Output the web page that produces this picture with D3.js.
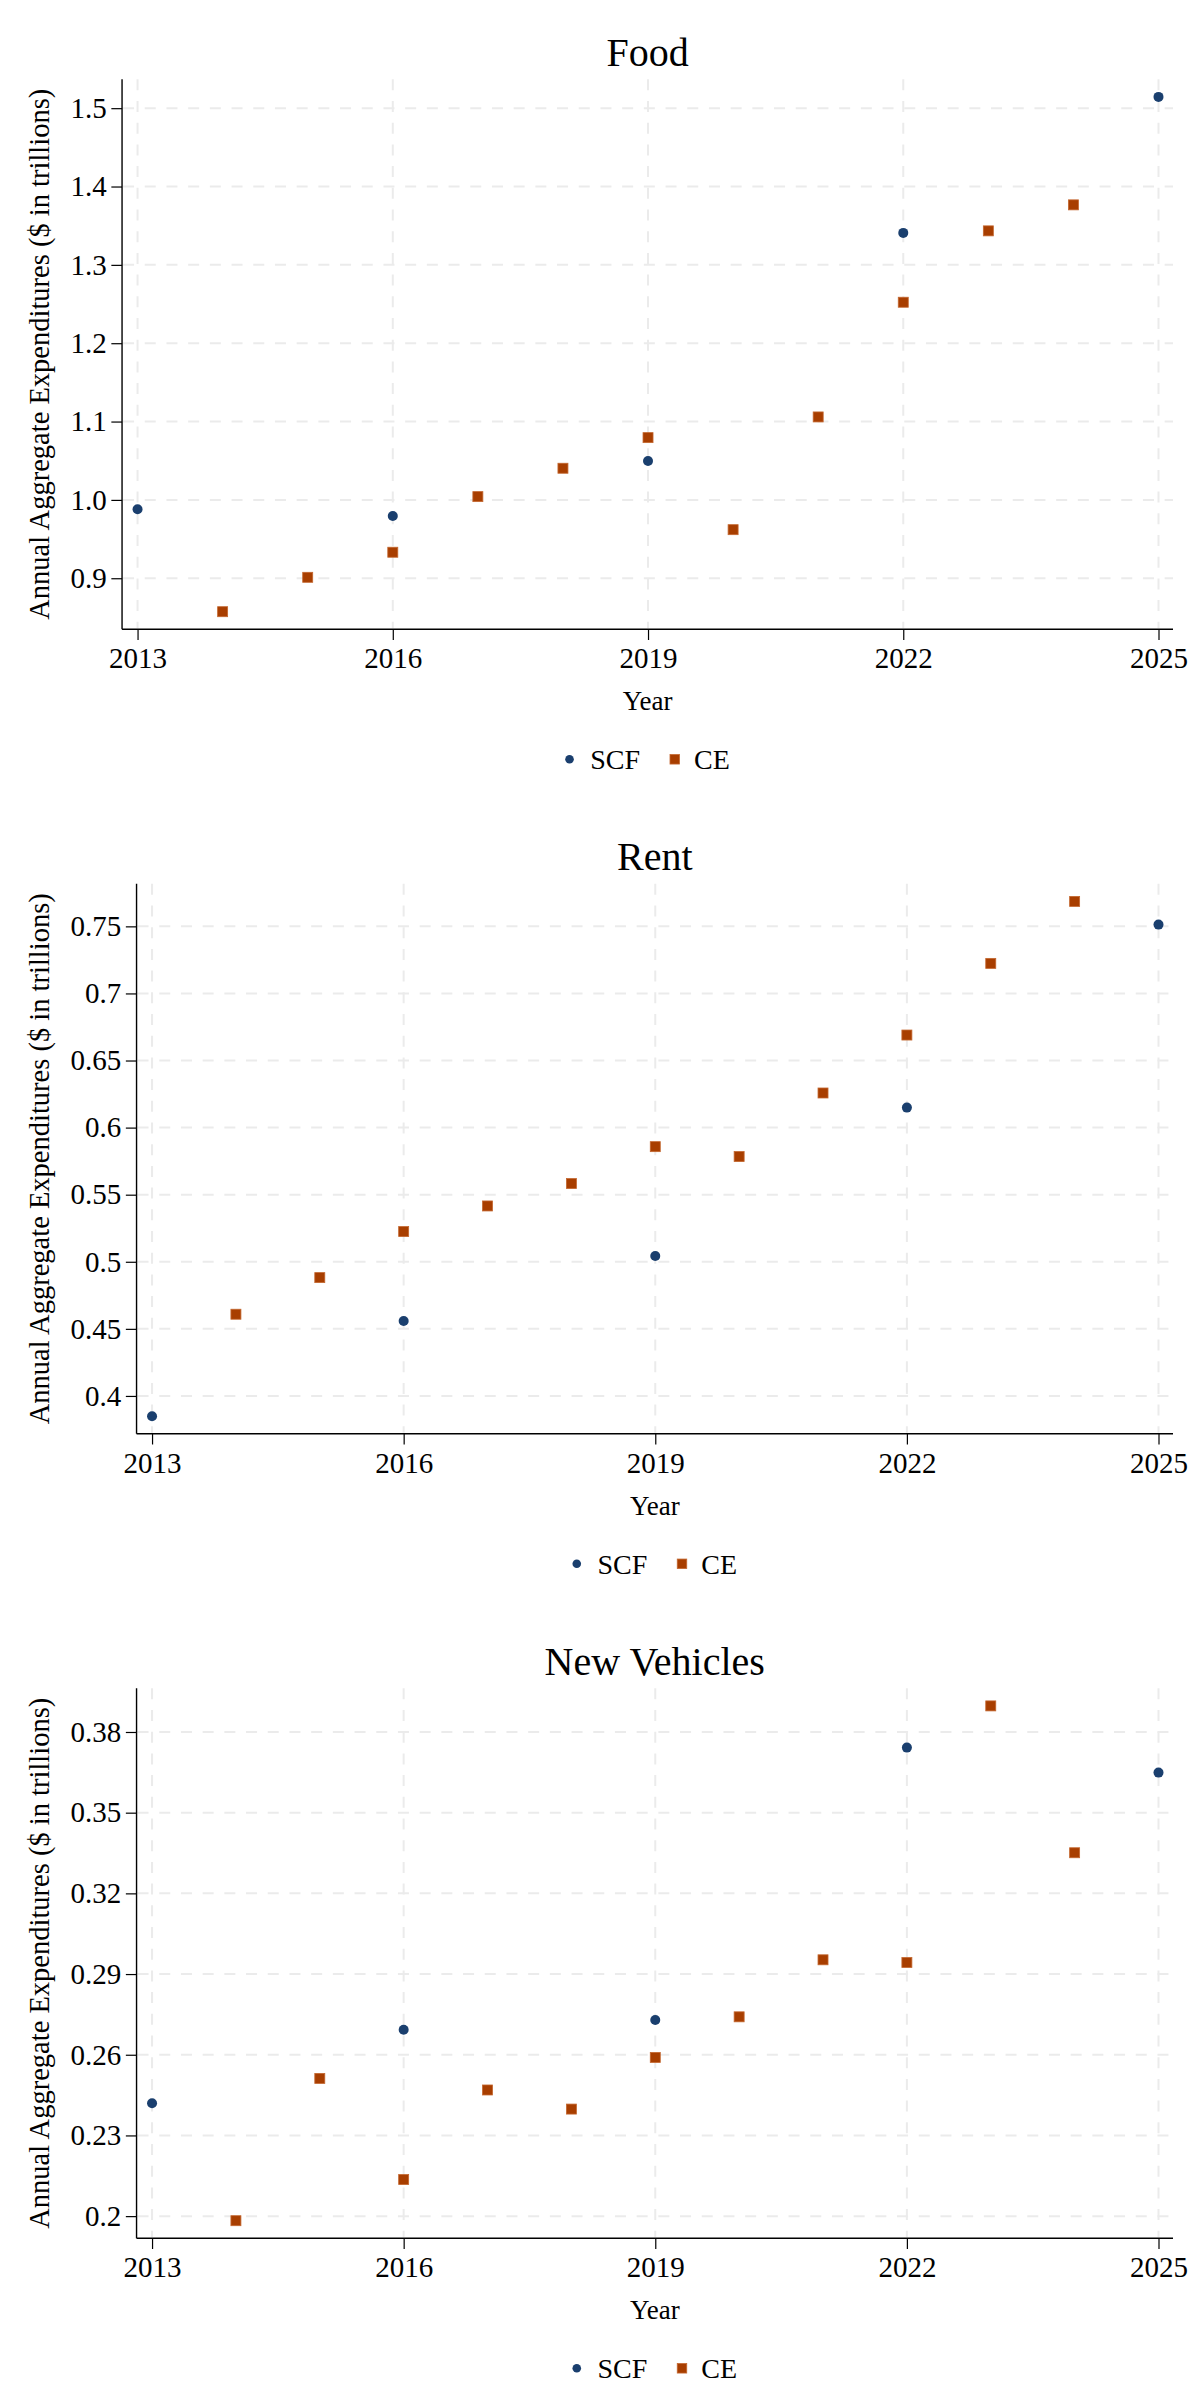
<!DOCTYPE html>
<html>
<head>
<meta charset="utf-8">
<script src="https://cdn.jsdelivr.net/npm/d3@7"></script>
<style>
  html, body { margin: 0; padding: 0; background: #ffffff; }
  svg { display: block; }
  text { font-family: 'Liberation Serif', 'Times New Roman', serif; fill: #000; }
</style>
</head>
<body>
<div id="chart"></div>
<script>
// ---------------- DATA ----------------
const scfYears = [2013, 2016, 2019, 2022, 2025];
const ceYears  = [2014, 2015, 2016, 2017, 2018, 2019, 2020, 2021, 2022, 2023, 2024];
const xTicks   = [2013, 2016, 2019, 2022, 2025];

const foodSCF = [0.988, 0.9795, 1.0497, 1.3408, 1.5144];
const foodCE  = [0.8573, 0.9012, 0.9332, 1.0042, 1.0404, 1.0795, 0.962, 1.1059, 1.2523, 1.3434, 1.3766];
const foodTicks = [0.9, 1.0, 1.1, 1.2, 1.3, 1.4, 1.5];
const foodTickLabels = ["0.9", "1.0", "1.1", "1.2", "1.3", "1.4", "1.5"];

const rentSCF = [0.3849, 0.4559, 0.5043, 0.6149, 0.7513];
const rentCE  = [0.4609, 0.4882, 0.5225, 0.5416, 0.5583, 0.5858, 0.5784, 0.6258, 0.669, 0.7224, 0.7686];
const rentTicks = [0.4, 0.45, 0.5, 0.55, 0.6, 0.65, 0.7, 0.75];
const rentTickLabels = ["0.4", "0.45", "0.5", "0.55", "0.6", "0.65", "0.7", "0.75"];

const nvSCF = [0.242, 0.2693, 0.2729, 0.3742, 0.3649];
const nvCE  = [0.1983, 0.2512, 0.2136, 0.2469, 0.2398, 0.259, 0.2741, 0.2953, 0.2943, 0.3897, 0.3351];
const nvTicks = [0.2, 0.23, 0.26, 0.29, 0.32, 0.35, 0.38];
const nvTickLabels = ["0.2", "0.23", "0.26", "0.29", "0.32", "0.35", "0.38"];

const titles = ["Food", "Rent", "New Vehicles"];
const seriesNames = ["SCF", "CE"];
const xTitle = "Year";
const yTitle = "Annual Aggregate Expenditures ($ in trillions)";

// ---------------- STYLE / LAYOUT ----------------
const W = 1200, H = 2400;
const FONT = "'Liberation Serif', 'Times New Roman', serif";
const colSCF = "#1a3f6e";
const colCE = "#a83e00";
const colCEStroke = "#c4672f";
const gridCol = "#ebebeb";
const top0 = 79.3, step = 804.5, plotH = 550, plotRight = 1173;
const padY = 17.6, padXL = 15.5, padXR = 14.5;
const tickLen = 10.7, tickGap = 4.6;
const fontTick = 29, fontYTitle = 28.5, fontXTitle = 27, fontLegend = 28, fontTitle = 40;

const panels = [
  { title: titles[0], scf: foodSCF, ce: foodCE, ticks: foodTicks, labels: foodTickLabels },
  { title: titles[1], scf: rentSCF, ce: rentCE, ticks: rentTicks, labels: rentTickLabels },
  { title: titles[2], scf: nvSCF, ce: nvCE, ticks: nvTicks, labels: nvTickLabels }
];

const svg = d3.select("#chart").append("svg")
  .attr("width", W).attr("height", H)
  .attr("viewBox", `0 0 ${W} ${H}`)
  .attr("font-family", FONT);
svg.append("rect").attr("width", W).attr("height", H).attr("fill", "#fff");

// helper to measure text width
const measurer = svg.append("text").attr("font-size", fontTick).attr("visibility", "hidden");
function textW(s, size) {
  measurer.attr("font-size", size).text(s);
  return measurer.node().getComputedTextLength();
}

panels.forEach((p, i) => {
  const top = top0 + i * step;
  const bottom = top + plotH;
  const maxLab = d3.max(p.labels, l => textW(l, fontTick));
  const left = 70 + maxLab + tickLen + tickGap + 0.5;
  const cx = (left + plotRight) / 2;

  const allVals = p.scf.concat(p.ce);
  const x = d3.scaleLinear().domain([2013, 2025]).range([left + padXL, plotRight - padXR]);
  const y = d3.scaleLinear().domain(d3.extent(allVals)).range([bottom - padY, top + padY]);

  const g = svg.append("g");

  // gridlines
  g.append("g").selectAll("line").data(p.ticks).join("line")
    .attr("x1", left + 1).attr("x2", plotRight)
    .attr("y1", d => y(d)).attr("y2", d => y(d))
    .attr("stroke", gridCol).attr("stroke-width", 2)
    .attr("stroke-dasharray", "11 10.7");
  g.append("g").selectAll("line").data(xTicks).join("line")
    .attr("x1", d => x(d)).attr("x2", d => x(d))
    .attr("y1", top).attr("y2", bottom - 1)
    .attr("stroke", gridCol).attr("stroke-width", 2)
    .attr("stroke-dasharray", "11 10.7");

  // y axis
  const yAxis = d3.axisLeft(y).tickValues(p.ticks)
    .tickFormat((d, k) => p.labels[k]).tickSize(tickLen).tickPadding(tickGap);
  const ya = g.append("g").attr("transform", `translate(${left},0)`).call(yAxis)
    .attr("font-family", FONT).attr("font-size", fontTick);
  ya.select(".domain").attr("d", `M0,${top}V${bottom}`).attr("stroke", "#000").attr("stroke-width", 1.4);
  ya.selectAll(".tick line").attr("stroke", "#000").attr("stroke-width", 1.2);
  ya.selectAll(".tick text").attr("fill", "#000");

  // x axis
  const xAxis = d3.axisBottom(x).tickValues(xTicks).tickFormat(d3.format("d"))
    .tickSize(tickLen).tickPadding(8);
  const xa = g.append("g").attr("transform", `translate(0,${bottom})`).call(xAxis)
    .attr("font-family", FONT).attr("font-size", fontTick);
  xa.select(".domain").attr("d", `M${left},0H${plotRight}`).attr("stroke", "#000").attr("stroke-width", 1.4);
  xa.selectAll(".tick line").attr("stroke", "#000").attr("stroke-width", 1.2);
  xa.selectAll(".tick text").attr("fill", "#000")
    .attr("dy", null).attr("y", 39);

  // title
  g.append("text").attr("x", cx).attr("y", top - 13.6)
    .attr("text-anchor", "middle").attr("font-size", fontTitle).text(p.title);

  // axis titles
  g.append("text").attr("x", cx).attr("y", bottom + 81)
    .attr("text-anchor", "middle").attr("font-size", fontXTitle).text(xTitle);
  g.append("text")
    .attr("transform", `translate(49,${(top + bottom) / 2}) rotate(-90)`)
    .attr("text-anchor", "middle").attr("font-size", fontYTitle).text(yTitle);

  // points
  g.append("g").selectAll("circle").data(p.scf).join("circle")
    .attr("cx", (d, k) => x(scfYears[k])).attr("cy", d => y(d))
    .attr("r", 5).attr("fill", colSCF);
  g.append("g").selectAll("rect").data(p.ce).join("rect")
    .attr("x", (d, k) => x(ceYears[k]) - 5).attr("y", d => y(d) - 5)
    .attr("width", 10).attr("height", 10)
    .attr("fill", colCE).attr("stroke", colCEStroke).attr("stroke-width", 0.8);

  // legend
  const wS = textW(seriesNames[0], fontLegend), wC = textW(seriesNames[1], fontLegend);
  const total = 25 + wS + 34.7 + 19.3 + wC;
  const lx = cx - total / 2;
  const ly = bottom + 140;
  const lg = g.append("g");
  lg.append("circle").attr("cx", lx + 4.3).attr("cy", ly - 10).attr("r", 4.3).attr("fill", colSCF);
  lg.append("text").attr("x", lx + 25).attr("y", ly).attr("font-size", fontLegend).text(seriesNames[0]);
  const sqc = lx + 25 + wS + 34.7;
  lg.append("rect").attr("x", sqc - 4.75).attr("y", ly - 14.75).attr("width", 9.5).attr("height", 9.5)
    .attr("fill", colCE).attr("stroke", colCEStroke).attr("stroke-width", 0.8);
  lg.append("text").attr("x", sqc + 19.3).attr("y", ly).attr("font-size", fontLegend).text(seriesNames[1]);
});
measurer.remove();
</script>
</body>
</html>
